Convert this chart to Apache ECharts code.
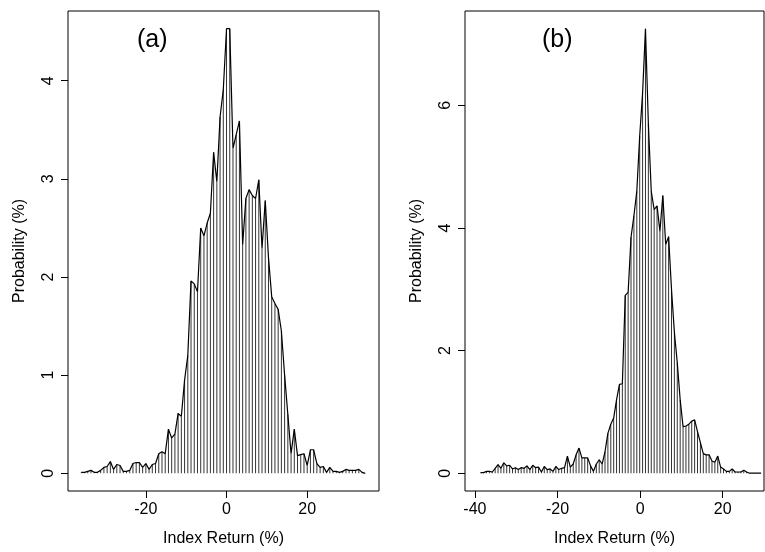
<!DOCTYPE html>
<html>
<head>
<meta charset="utf-8">
<script src="https://cdn.jsdelivr.net/npm/echarts@6/dist/echarts.min.js"></script>
<style>
  html, body { margin: 0; padding: 0; background: #fff; }
  #chart { width: 765px; height: 552px; }
</style>
</head>
<body>
<div id="chart"></div>
<script>
// panel (a): bins start at -36, step 0.8
const startA = -36;
const stepA = 0.8;
const probA = [
  0.01, 0.01, 0.02, 0.03, 0.01, 0.01, 0.03, 0.06, 0.07, 0.12,
  0.04, 0.09, 0.08, 0.02, 0.02, 0.03, 0.10, 0.11, 0.11, 0.06,
  0.10, 0.04, 0.09, 0.10, 0.20, 0.22, 0.20, 0.45, 0.36, 0.40,
  0.61, 0.58, 0.95, 1.20, 1.96, 1.93, 1.85, 2.50, 2.42, 2.55,
  2.65, 3.27, 2.97, 3.63, 3.91, 4.53, 4.53, 3.31, 3.45, 3.59,
  2.33, 2.80, 2.89, 2.83, 2.80, 2.99, 2.29, 2.78, 2.20, 1.80,
  1.73, 1.67, 1.45, 1.00, 0.60, 0.20, 0.45, 0.18, 0.19, 0.20,
  0.08, 0.24, 0.24, 0.10, 0.06, 0.07, 0.01, 0.06, 0.02, 0.02,
  0.01, 0.02, 0.04, 0.03, 0.03, 0.03, 0.04, 0.01, 0.00
];

// panel (b): bins start at -38.6, step 0.7
const startB = -38.6;
const stepB = 0.7;
const probB = [
  0.01, 0.01, 0.03, 0.03, 0.02, 0.08, 0.14, 0.08, 0.17, 0.12,
  0.13, 0.07, 0.09, 0.06, 0.09, 0.08, 0.12, 0.06, 0.13, 0.09,
  0.10, 0.02, 0.11, 0.06, 0.07, 0.03, 0.11, 0.06, 0.08, 0.09,
  0.28, 0.10, 0.15, 0.30, 0.41, 0.25, 0.25, 0.25, 0.12, 0.03,
  0.15, 0.22, 0.15, 0.35, 0.65, 0.80, 0.90, 1.20, 1.45, 1.46,
  2.90, 2.95, 3.85, 4.20, 4.60, 5.50, 6.20, 7.25, 5.70, 4.60,
  4.30, 4.36, 3.95, 4.53, 3.73, 3.86, 3.00, 2.30, 1.80, 1.20,
  0.76, 0.77, 0.80, 0.85, 0.87, 0.68, 0.50, 0.32, 0.30, 0.30,
  0.20, 0.18, 0.28, 0.10, 0.07, 0.03, 0.03, 0.07, 0.02, 0.02,
  0.02, 0.05, 0.02, 0.00, 0.00, 0.00, 0.00, 0.00
];

const ticksXA = [-20, 0, 20];
const ticksYA = [0, 1, 2, 3, 4];
const ticksXB = [-40, -20, 0, 20];
const ticksYB = [0, 2, 4, 6];

const toPairs = (start, step, ys) => ys.map((y, i) => [+(start + i * step).toFixed(2), y]);
const dataA = toPairs(startA, stepA, probA);
const dataB = toPairs(startB, stepB, probB);

const font = "Liberation Sans, Arial, sans-serif";
const ink = "#000";

function xAxis(idx, min, max, ticks) {
  return {
    type: "value", gridIndex: idx, min: min, max: max,
    splitLine: { show: false },
    axisLine: { show: false, onZero: false },
    axisTick: { show: true, inside: false, length: 7, customValues: ticks, lineStyle: { color: ink } },
    axisLabel: { customValues: ticks, color: ink, fontSize: 16, fontFamily: font, margin: 11 },
    name: "Index Return (%)", nameLocation: "middle", nameGap: 40,
    nameTextStyle: { color: ink, fontSize: 16, fontFamily: font }
  };
}
function yAxis(idx, min, max, ticks) {
  return {
    type: "value", gridIndex: idx, min: min, max: max,
    splitLine: { show: false },
    axisLine: { show: false, onZero: false },
    axisTick: { show: true, inside: false, length: 7, customValues: ticks, lineStyle: { color: ink } },
    axisLabel: { customValues: ticks, color: ink, fontSize: 16, fontFamily: font, rotate: 90, margin: 11 },
    name: "Probability (%)", nameLocation: "middle", nameGap: 40,
    nameTextStyle: { color: ink, fontSize: 16, fontFamily: font }
  };
}
function seriesPair(idx, data) {
  return [
    { type: "bar", xAxisIndex: idx, yAxisIndex: idx, data: data, barWidth: 1,
      itemStyle: { color: "#333" }, silent: true, animation: false },
    { type: "line", xAxisIndex: idx, yAxisIndex: idx, data: data, showSymbol: false,
      lineStyle: { color: ink, width: 1.2 }, silent: true, animation: false }
  ];
}

const chart = echarts.init(document.getElementById("chart"), null, { renderer: "canvas" });
chart.setOption({
  backgroundColor: "#fff",
  animation: false,
  grid: [
    { left: 68, right: 386, top: 11, bottom: 57, show: true, borderColor: ink, borderWidth: 1 },
    { left: 465, right: 1, top: 11, bottom: 57, show: true, borderColor: ink, borderWidth: 1 }
  ],
  xAxis: [xAxis(0, -39.3, 37.8, ticksXA), xAxis(1, -42.4, 30, ticksXB)],
  yAxis: [yAxis(0, -0.18, 4.71, ticksYA), yAxis(1, -0.29, 7.54, ticksYB)],
  graphic: [
    { type: "text", left: 137, top: 28, style: { text: "(a)", font: "25px " + font, fill: ink } },
    { type: "text", left: 542, top: 28, style: { text: "(b)", font: "25px " + font, fill: ink } }
  ],
  series: [...seriesPair(0, dataA), ...seriesPair(1, dataB)]
});
</script>
</body>
</html>
